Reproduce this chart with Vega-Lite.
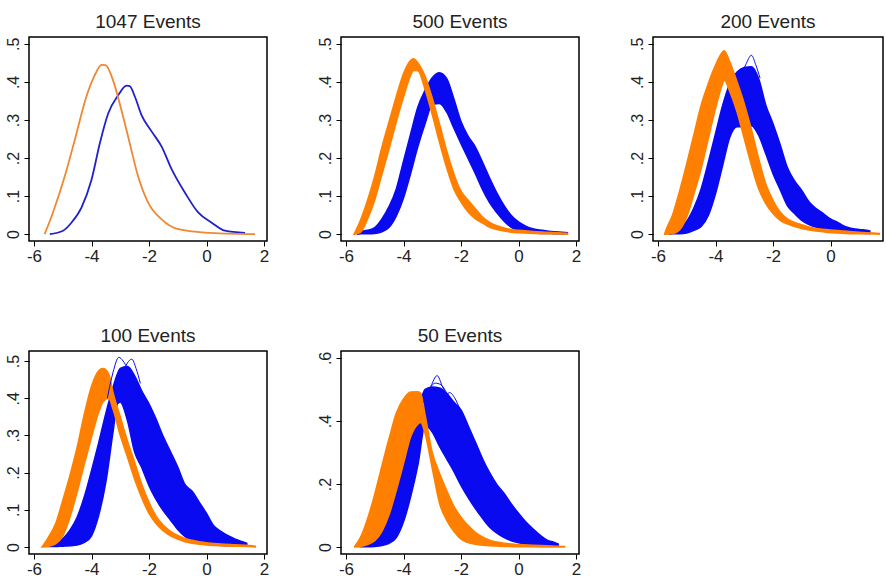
{
  "$schema": "https://vega.github.io/schema/vega-lite/v6.json",
  "background": "white",
  "autosize": {"type": "pad"},
  "padding": {"left": 4, "top": 12, "right": 0, "bottom": 0},
  "bounds": "flush",
  "columns": 3,
  "spacing": {"row": 110, "column": 74},
  "config": {
    "view": {"stroke": "#000000", "strokeWidth": 1.5},
    "axis": {
      "domain": false, "grid": false, "ticks": true, "tickColor": "#000000", "tickSize": 5, "tickWidth": 1,
      "labelFont": "Liberation Sans, Arial, sans-serif", "labelFontSize": 17, "labelColor": "#222222",
      "labelPadding": 2, "labelFlush": false, "labelOverlap": false
    },
    "axisX": {"labelExpr": "(datum.value < 0 ? '-' : '') + abs(datum.value)"},
    "axisY": {"labelAngle": -90, "labelAlign": "center", "labelBaseline": "bottom", "labelFontSize": 16, "labelPadding": 3},
    "title": {"font": "Liberation Sans, Arial, sans-serif", "fontSize": 19, "fontWeight": "normal", "color": "#222222", "offset": 5, "anchor": "middle"}
  },
  "datasets": {
    "curves": [
      {"p": "1047", "s": "o", "x": -5.63, "y": 0}, {"p": "1047", "s": "o", "x": -5.34, "y": 0.057}, {"p": "1047", "s": "o", "x": -4.93, "y": 0.152},
      {"p": "1047", "s": "o", "x": -4.58, "y": 0.248}, {"p": "1047", "s": "o", "x": -4.18, "y": 0.361}, {"p": "1047", "s": "o", "x": -3.89, "y": 0.417},
      {"p": "1047", "s": "o", "x": -3.65, "y": 0.445}, {"p": "1047", "s": "o", "x": -3.51, "y": 0.444}, {"p": "1047", "s": "o", "x": -3.25, "y": 0.404},
      {"p": "1047", "s": "o", "x": -2.96, "y": 0.326}, {"p": "1047", "s": "o", "x": -2.67, "y": 0.239}, {"p": "1047", "s": "o", "x": -2.38, "y": 0.152},
      {"p": "1047", "s": "o", "x": -2.03, "y": 0.083}, {"p": "1047", "s": "o", "x": -1.56, "y": 0.039}, {"p": "1047", "s": "o", "x": -0.98, "y": 0.013},
      {"p": "1047", "s": "o", "x": -0.05, "y": 0.004}, {"p": "1047", "s": "o", "x": 1.69, "y": 0},
      {"p": "1047", "s": "b", "x": -5.45, "y": 0}, {"p": "1047", "s": "b", "x": -4.99, "y": 0.009}, {"p": "1047", "s": "b", "x": -4.7, "y": 0.03},
      {"p": "1047", "s": "b", "x": -4.35, "y": 0.07}, {"p": "1047", "s": "b", "x": -4.0, "y": 0.143}, {"p": "1047", "s": "b", "x": -3.71, "y": 0.239},
      {"p": "1047", "s": "b", "x": -3.42, "y": 0.317}, {"p": "1047", "s": "b", "x": -3.07, "y": 0.365}, {"p": "1047", "s": "b", "x": -2.78, "y": 0.39},
      {"p": "1047", "s": "b", "x": -2.67, "y": 0.389}, {"p": "1047", "s": "b", "x": -2.49, "y": 0.361}, {"p": "1047", "s": "b", "x": -2.26, "y": 0.313},
      {"p": "1047", "s": "b", "x": -1.91, "y": 0.27}, {"p": "1047", "s": "b", "x": -1.56, "y": 0.23}, {"p": "1047", "s": "b", "x": -1.21, "y": 0.17},
      {"p": "1047", "s": "b", "x": -0.75, "y": 0.109}, {"p": "1047", "s": "b", "x": -0.29, "y": 0.057}, {"p": "1047", "s": "b", "x": 0.18, "y": 0.03},
      {"p": "1047", "s": "b", "x": 0.64, "y": 0.009}, {"p": "1047", "s": "b", "x": 1.34, "y": 0.003},
      {"p": "200", "s": "b1", "x": -3.15, "y": 0.41}, {"p": "200", "s": "b1", "x": -2.95, "y": 0.445}, {"p": "200", "s": "b1", "x": -2.75, "y": 0.47},
      {"p": "200", "s": "b1", "x": -2.6, "y": 0.445}, {"p": "200", "s": "b1", "x": -2.45, "y": 0.41},
      {"p": "100", "s": "b1", "x": -3.45, "y": 0.4}, {"p": "100", "s": "b1", "x": -3.25, "y": 0.47}, {"p": "100", "s": "b1", "x": -3.05, "y": 0.51},
      {"p": "100", "s": "b1", "x": -2.9, "y": 0.5}, {"p": "100", "s": "b1", "x": -2.75, "y": 0.48},
      {"p": "100", "s": "b2", "x": -2.95, "y": 0.46}, {"p": "100", "s": "b2", "x": -2.75, "y": 0.495}, {"p": "100", "s": "b2", "x": -2.6, "y": 0.505},
      {"p": "100", "s": "b2", "x": -2.45, "y": 0.48}, {"p": "100", "s": "b2", "x": -2.3, "y": 0.44},
      {"p": "50", "s": "b1", "x": -3.25, "y": 0.47}, {"p": "50", "s": "b1", "x": -3.05, "y": 0.51}, {"p": "50", "s": "b1", "x": -2.83, "y": 0.544},
      {"p": "50", "s": "b1", "x": -2.65, "y": 0.51}, {"p": "50", "s": "b1", "x": -2.45, "y": 0.47},
      {"p": "50", "s": "b2", "x": -3.3, "y": 0.46}, {"p": "50", "s": "b2", "x": -3.1, "y": 0.5}, {"p": "50", "s": "b2", "x": -2.9, "y": 0.52},
      {"p": "50", "s": "b2", "x": -2.7, "y": 0.515}, {"p": "50", "s": "b2", "x": -2.5, "y": 0.49}, {"p": "50", "s": "b2", "x": -2.3, "y": 0.46},
      {"p": "50", "s": "b3", "x": -2.6, "y": 0.46}, {"p": "50", "s": "b3", "x": -2.4, "y": 0.49}, {"p": "50", "s": "b3", "x": -2.2, "y": 0.47},
      {"p": "50", "s": "b3", "x": -2.05, "y": 0.44}
    ],
    "bands": [
      {"p": "500", "s": "o", "x": -5.72, "lo": 0, "hi": 0}, {"p": "500", "s": "o", "x": -5.5, "lo": 0.005, "hi": 0.036},
      {"p": "500", "s": "o", "x": -5.25, "lo": 0.04, "hi": 0.089}, {"p": "500", "s": "o", "x": -5.0, "lo": 0.09, "hi": 0.153},
      {"p": "500", "s": "o", "x": -4.75, "lo": 0.157, "hi": 0.229}, {"p": "500", "s": "o", "x": -4.5, "lo": 0.225, "hi": 0.296},
      {"p": "500", "s": "o", "x": -4.25, "lo": 0.295, "hi": 0.362}, {"p": "500", "s": "o", "x": -4.0, "lo": 0.36, "hi": 0.422},
      {"p": "500", "s": "o", "x": -3.75, "lo": 0.418, "hi": 0.457}, {"p": "500", "s": "o", "x": -3.65, "lo": 0.43, "hi": 0.461},
      {"p": "500", "s": "o", "x": -3.5, "lo": 0.429, "hi": 0.45}, {"p": "500", "s": "o", "x": -3.25, "lo": 0.38, "hi": 0.415},
      {"p": "500", "s": "o", "x": -3.0, "lo": 0.314, "hi": 0.358}, {"p": "500", "s": "o", "x": -2.75, "lo": 0.242, "hi": 0.29},
      {"p": "500", "s": "o", "x": -2.5, "lo": 0.175, "hi": 0.22}, {"p": "500", "s": "o", "x": -2.25, "lo": 0.119, "hi": 0.159},
      {"p": "500", "s": "o", "x": -2.0, "lo": 0.084, "hi": 0.113}, {"p": "500", "s": "o", "x": -1.75, "lo": 0.058, "hi": 0.089},
      {"p": "500", "s": "o", "x": -1.5, "lo": 0.04, "hi": 0.067}, {"p": "500", "s": "o", "x": -1.25, "lo": 0.029, "hi": 0.045},
      {"p": "500", "s": "o", "x": -1.0, "lo": 0.018, "hi": 0.031}, {"p": "500", "s": "o", "x": -0.75, "lo": 0.012, "hi": 0.022},
      {"p": "500", "s": "o", "x": -0.5, "lo": 0.008, "hi": 0.016}, {"p": "500", "s": "o", "x": -0.25, "lo": 0.005, "hi": 0.012},
      {"p": "500", "s": "o", "x": 0, "lo": 0.0035, "hi": 0.01}, {"p": "500", "s": "o", "x": 0.5, "lo": 0.002, "hi": 0.007},
      {"p": "500", "s": "o", "x": 1.0, "lo": 0.001, "hi": 0.005}, {"p": "500", "s": "o", "x": 1.5, "lo": 0.0005, "hi": 0.003},
      {"p": "500", "s": "o", "x": 1.7, "lo": 0, "hi": 0.002},

      {"p": "500", "s": "b", "x": -5.6, "lo": 0, "hi": 0.005}, {"p": "500", "s": "b", "x": -5.5, "lo": 0.001, "hi": 0.007},
      {"p": "500", "s": "b", "x": -5.25, "lo": 0.001, "hi": 0.01}, {"p": "500", "s": "b", "x": -5.0, "lo": 0.002, "hi": 0.017},
      {"p": "500", "s": "b", "x": -4.75, "lo": 0.006, "hi": 0.04}, {"p": "500", "s": "b", "x": -4.5, "lo": 0.018, "hi": 0.073},
      {"p": "500", "s": "b", "x": -4.25, "lo": 0.048, "hi": 0.119}, {"p": "500", "s": "b", "x": -4.0, "lo": 0.095, "hi": 0.192},
      {"p": "500", "s": "b", "x": -3.75, "lo": 0.16, "hi": 0.264}, {"p": "500", "s": "b", "x": -3.5, "lo": 0.23, "hi": 0.334},
      {"p": "500", "s": "b", "x": -3.25, "lo": 0.29, "hi": 0.378}, {"p": "500", "s": "b", "x": -3.0, "lo": 0.34, "hi": 0.411},
      {"p": "500", "s": "b", "x": -2.75, "lo": 0.343, "hi": 0.424}, {"p": "500", "s": "b", "x": -2.5, "lo": 0.321, "hi": 0.409},
      {"p": "500", "s": "b", "x": -2.25, "lo": 0.279, "hi": 0.356}, {"p": "500", "s": "b", "x": -2.0, "lo": 0.238, "hi": 0.296},
      {"p": "500", "s": "b", "x": -1.75, "lo": 0.198, "hi": 0.257}, {"p": "500", "s": "b", "x": -1.5, "lo": 0.159, "hi": 0.229},
      {"p": "500", "s": "b", "x": -1.25, "lo": 0.117, "hi": 0.189}, {"p": "500", "s": "b", "x": -1.0, "lo": 0.082, "hi": 0.147},
      {"p": "500", "s": "b", "x": -0.75, "lo": 0.056, "hi": 0.108}, {"p": "500", "s": "b", "x": -0.5, "lo": 0.034, "hi": 0.075},
      {"p": "500", "s": "b", "x": -0.25, "lo": 0.018, "hi": 0.049}, {"p": "500", "s": "b", "x": 0, "lo": 0.01, "hi": 0.032},
      {"p": "500", "s": "b", "x": 0.25, "lo": 0.005, "hi": 0.021}, {"p": "500", "s": "b", "x": 0.5, "lo": 0.003, "hi": 0.014},
      {"p": "500", "s": "b", "x": 0.75, "lo": 0.002, "hi": 0.011}, {"p": "500", "s": "b", "x": 1.0, "lo": 0.002, "hi": 0.008},
      {"p": "500", "s": "b", "x": 1.25, "lo": 0.001, "hi": 0.006}, {"p": "500", "s": "b", "x": 1.5, "lo": 0.001, "hi": 0.005},
      {"p": "500", "s": "b", "x": 1.7, "lo": 0.001, "hi": 0.004},

      {"p": "200", "s": "o", "x": -5.77, "lo": 0, "hi": 0}, {"p": "200", "s": "o", "x": -5.75, "lo": 0, "hi": 0.005},
      {"p": "200", "s": "o", "x": -5.5, "lo": 0.001, "hi": 0.049}, {"p": "200", "s": "o", "x": -5.25, "lo": 0.011, "hi": 0.113},
      {"p": "200", "s": "o", "x": -5.0, "lo": 0.045, "hi": 0.185}, {"p": "200", "s": "o", "x": -4.75, "lo": 0.106, "hi": 0.262},
      {"p": "200", "s": "o", "x": -4.5, "lo": 0.172, "hi": 0.339}, {"p": "200", "s": "o", "x": -4.25, "lo": 0.251, "hi": 0.396},
      {"p": "200", "s": "o", "x": -4.0, "lo": 0.33, "hi": 0.444}, {"p": "200", "s": "o", "x": -3.75, "lo": 0.396, "hi": 0.479},
      {"p": "200", "s": "o", "x": -3.7, "lo": 0.405, "hi": 0.482}, {"p": "200", "s": "o", "x": -3.5, "lo": 0.374, "hi": 0.452},
      {"p": "200", "s": "o", "x": -3.25, "lo": 0.321, "hi": 0.4}, {"p": "200", "s": "o", "x": -3.0, "lo": 0.251, "hi": 0.343},
      {"p": "200", "s": "o", "x": -2.75, "lo": 0.181, "hi": 0.275}, {"p": "200", "s": "o", "x": -2.5, "lo": 0.119, "hi": 0.199},
      {"p": "200", "s": "o", "x": -2.25, "lo": 0.08, "hi": 0.132}, {"p": "200", "s": "o", "x": -2.0, "lo": 0.054, "hi": 0.089},
      {"p": "200", "s": "o", "x": -1.75, "lo": 0.036, "hi": 0.058}, {"p": "200", "s": "o", "x": -1.5, "lo": 0.027, "hi": 0.04},
      {"p": "200", "s": "o", "x": -1.25, "lo": 0.02, "hi": 0.031}, {"p": "200", "s": "o", "x": -1.0, "lo": 0.015, "hi": 0.025},
      {"p": "200", "s": "o", "x": -0.75, "lo": 0.011, "hi": 0.019}, {"p": "200", "s": "o", "x": -0.5, "lo": 0.008, "hi": 0.015},
      {"p": "200", "s": "o", "x": -0.25, "lo": 0.006, "hi": 0.013}, {"p": "200", "s": "o", "x": 0, "lo": 0.004, "hi": 0.011},
      {"p": "200", "s": "o", "x": 0.5, "lo": 0.002, "hi": 0.008}, {"p": "200", "s": "o", "x": 1.0, "lo": 0.001, "hi": 0.005},
      {"p": "200", "s": "o", "x": 1.5, "lo": 0.0005, "hi": 0.003}, {"p": "200", "s": "o", "x": 1.7, "lo": 0, "hi": 0.002},

      {"p": "200", "s": "b", "x": -5.6, "lo": 0, "hi": 0.005}, {"p": "200", "s": "b", "x": -5.5, "lo": 0.001, "hi": 0.008},
      {"p": "200", "s": "b", "x": -5.25, "lo": 0.001, "hi": 0.017}, {"p": "200", "s": "b", "x": -5.0, "lo": 0.003, "hi": 0.034},
      {"p": "200", "s": "b", "x": -4.75, "lo": 0.01, "hi": 0.069}, {"p": "200", "s": "b", "x": -4.5, "lo": 0.02, "hi": 0.119},
      {"p": "200", "s": "b", "x": -4.25, "lo": 0.049, "hi": 0.189}, {"p": "200", "s": "b", "x": -4.0, "lo": 0.106, "hi": 0.264},
      {"p": "200", "s": "b", "x": -3.75, "lo": 0.181, "hi": 0.339}, {"p": "200", "s": "b", "x": -3.5, "lo": 0.255, "hi": 0.396},
      {"p": "200", "s": "b", "x": -3.25, "lo": 0.282, "hi": 0.426}, {"p": "200", "s": "b", "x": -3.0, "lo": 0.282, "hi": 0.438},
      {"p": "200", "s": "b", "x": -2.75, "lo": 0.285, "hi": 0.44}, {"p": "200", "s": "b", "x": -2.5, "lo": 0.26, "hi": 0.409},
      {"p": "200", "s": "b", "x": -2.25, "lo": 0.211, "hi": 0.339}, {"p": "200", "s": "b", "x": -2.0, "lo": 0.159, "hi": 0.29},
      {"p": "200", "s": "b", "x": -1.75, "lo": 0.117, "hi": 0.235}, {"p": "200", "s": "b", "x": -1.5, "lo": 0.075, "hi": 0.175},
      {"p": "200", "s": "b", "x": -1.25, "lo": 0.054, "hi": 0.14}, {"p": "200", "s": "b", "x": -1.0, "lo": 0.036, "hi": 0.115},
      {"p": "200", "s": "b", "x": -0.75, "lo": 0.025, "hi": 0.085}, {"p": "200", "s": "b", "x": -0.5, "lo": 0.018, "hi": 0.067},
      {"p": "200", "s": "b", "x": -0.25, "lo": 0.013, "hi": 0.054}, {"p": "200", "s": "b", "x": 0, "lo": 0.01, "hi": 0.04},
      {"p": "200", "s": "b", "x": 0.25, "lo": 0.007, "hi": 0.031}, {"p": "200", "s": "b", "x": 0.5, "lo": 0.005, "hi": 0.02},
      {"p": "200", "s": "b", "x": 0.75, "lo": 0.0035, "hi": 0.015}, {"p": "200", "s": "b", "x": 1.0, "lo": 0.003, "hi": 0.012},
      {"p": "200", "s": "b", "x": 1.25, "lo": 0.002, "hi": 0.01}, {"p": "200", "s": "b", "x": 1.37, "lo": 0.002, "hi": 0.008},

      {"p": "100", "s": "o", "x": -5.72, "lo": 0, "hi": 0}, {"p": "100", "s": "o", "x": -5.5, "lo": 0.002, "hi": 0.026},
      {"p": "100", "s": "o", "x": -5.25, "lo": 0.008, "hi": 0.062}, {"p": "100", "s": "o", "x": -5.0, "lo": 0.029, "hi": 0.125},
      {"p": "100", "s": "o", "x": -4.75, "lo": 0.08, "hi": 0.192}, {"p": "100", "s": "o", "x": -4.5, "lo": 0.147, "hi": 0.268},
      {"p": "100", "s": "o", "x": -4.25, "lo": 0.223, "hi": 0.357}, {"p": "100", "s": "o", "x": -4.0, "lo": 0.295, "hi": 0.432},
      {"p": "100", "s": "o", "x": -3.75, "lo": 0.362, "hi": 0.474}, {"p": "100", "s": "o", "x": -3.6, "lo": 0.39, "hi": 0.48},
      {"p": "100", "s": "o", "x": -3.4, "lo": 0.4, "hi": 0.465}, {"p": "100", "s": "o", "x": -3.25, "lo": 0.37, "hi": 0.415},
      {"p": "100", "s": "o", "x": -3.0, "lo": 0.3, "hi": 0.35}, {"p": "100", "s": "o", "x": -2.75, "lo": 0.242, "hi": 0.285},
      {"p": "100", "s": "o", "x": -2.5, "lo": 0.182, "hi": 0.228}, {"p": "100", "s": "o", "x": -2.25, "lo": 0.132, "hi": 0.168},
      {"p": "100", "s": "o", "x": -2.0, "lo": 0.09, "hi": 0.12}, {"p": "100", "s": "o", "x": -1.75, "lo": 0.062, "hi": 0.082},
      {"p": "100", "s": "o", "x": -1.5, "lo": 0.043, "hi": 0.058}, {"p": "100", "s": "o", "x": -1.25, "lo": 0.03, "hi": 0.042},
      {"p": "100", "s": "o", "x": -1.0, "lo": 0.021, "hi": 0.031}, {"p": "100", "s": "o", "x": -0.75, "lo": 0.014, "hi": 0.023},
      {"p": "100", "s": "o", "x": -0.5, "lo": 0.01, "hi": 0.018}, {"p": "100", "s": "o", "x": -0.25, "lo": 0.007, "hi": 0.014},
      {"p": "100", "s": "o", "x": 0, "lo": 0.005, "hi": 0.011}, {"p": "100", "s": "o", "x": 0.5, "lo": 0.003, "hi": 0.008},
      {"p": "100", "s": "o", "x": 1.0, "lo": 0.002, "hi": 0.006}, {"p": "100", "s": "o", "x": 1.5, "lo": 0.001, "hi": 0.004},
      {"p": "100", "s": "o", "x": 1.7, "lo": 0, "hi": 0.002},

      {"p": "100", "s": "b", "x": -5.5, "lo": 0.001, "hi": 0.004}, {"p": "100", "s": "b", "x": -5.25, "lo": 0.001, "hi": 0.01},
      {"p": "100", "s": "b", "x": -5.0, "lo": 0.002, "hi": 0.022}, {"p": "100", "s": "b", "x": -4.75, "lo": 0.003, "hi": 0.045},
      {"p": "100", "s": "b", "x": -4.5, "lo": 0.005, "hi": 0.08}, {"p": "100", "s": "b", "x": -4.25, "lo": 0.012, "hi": 0.135},
      {"p": "100", "s": "b", "x": -4.0, "lo": 0.03, "hi": 0.205}, {"p": "100", "s": "b", "x": -3.75, "lo": 0.085, "hi": 0.28},
      {"p": "100", "s": "b", "x": -3.5, "lo": 0.175, "hi": 0.36}, {"p": "100", "s": "b", "x": -3.25, "lo": 0.31, "hi": 0.43},
      {"p": "100", "s": "b", "x": -3.1, "lo": 0.385, "hi": 0.465},
      {"p": "100", "s": "b", "x": -3.0, "lo": 0.39, "hi": 0.48}, {"p": "100", "s": "b", "x": -2.75, "lo": 0.34, "hi": 0.485},
      {"p": "100", "s": "b", "x": -2.5, "lo": 0.255, "hi": 0.46}, {"p": "100", "s": "b", "x": -2.25, "lo": 0.213, "hi": 0.419},
      {"p": "100", "s": "b", "x": -2.0, "lo": 0.165, "hi": 0.385}, {"p": "100", "s": "b", "x": -1.75, "lo": 0.127, "hi": 0.343},
      {"p": "100", "s": "b", "x": -1.5, "lo": 0.097, "hi": 0.296}, {"p": "100", "s": "b", "x": -1.25, "lo": 0.072, "hi": 0.256},
      {"p": "100", "s": "b", "x": -1.0, "lo": 0.047, "hi": 0.215}, {"p": "100", "s": "b", "x": -0.75, "lo": 0.028, "hi": 0.168},
      {"p": "100", "s": "b", "x": -0.5, "lo": 0.016, "hi": 0.15}, {"p": "100", "s": "b", "x": -0.25, "lo": 0.01, "hi": 0.12},
      {"p": "100", "s": "b", "x": 0, "lo": 0.007, "hi": 0.09}, {"p": "100", "s": "b", "x": 0.25, "lo": 0.005, "hi": 0.057},
      {"p": "100", "s": "b", "x": 0.5, "lo": 0.004, "hi": 0.042}, {"p": "100", "s": "b", "x": 0.75, "lo": 0.003, "hi": 0.03},
      {"p": "100", "s": "b", "x": 1.0, "lo": 0.003, "hi": 0.021}, {"p": "100", "s": "b", "x": 1.25, "lo": 0.002, "hi": 0.014},
      {"p": "100", "s": "b", "x": 1.4, "lo": 0.002, "hi": 0.01},

      {"p": "50", "s": "o", "x": -5.7, "lo": 0, "hi": 0.002}, {"p": "50", "s": "o", "x": -5.5, "lo": 0.002, "hi": 0.03},
      {"p": "50", "s": "o", "x": -5.25, "lo": 0.008, "hi": 0.09}, {"p": "50", "s": "o", "x": -5.0, "lo": 0.02, "hi": 0.168},
      {"p": "50", "s": "o", "x": -4.75, "lo": 0.05, "hi": 0.258}, {"p": "50", "s": "o", "x": -4.5, "lo": 0.103, "hi": 0.345},
      {"p": "50", "s": "o", "x": -4.25, "lo": 0.18, "hi": 0.425}, {"p": "50", "s": "o", "x": -4.0, "lo": 0.265, "hi": 0.47},
      {"p": "50", "s": "o", "x": -3.75, "lo": 0.35, "hi": 0.492}, {"p": "50", "s": "o", "x": -3.5, "lo": 0.39, "hi": 0.493},
      {"p": "50", "s": "o", "x": -3.4, "lo": 0.395, "hi": 0.487}, {"p": "50", "s": "o", "x": -3.25, "lo": 0.36, "hi": 0.42},
      {"p": "50", "s": "o", "x": -3.0, "lo": 0.25, "hi": 0.3}, {"p": "50", "s": "o", "x": -2.75, "lo": 0.14, "hi": 0.235},
      {"p": "50", "s": "o", "x": -2.5, "lo": 0.085, "hi": 0.18}, {"p": "50", "s": "o", "x": -2.25, "lo": 0.05, "hi": 0.13},
      {"p": "50", "s": "o", "x": -2.0, "lo": 0.025, "hi": 0.095}, {"p": "50", "s": "o", "x": -1.75, "lo": 0.014, "hi": 0.068},
      {"p": "50", "s": "o", "x": -1.5, "lo": 0.009, "hi": 0.047}, {"p": "50", "s": "o", "x": -1.25, "lo": 0.006, "hi": 0.032},
      {"p": "50", "s": "o", "x": -1.0, "lo": 0.004, "hi": 0.022}, {"p": "50", "s": "o", "x": -0.75, "lo": 0.003, "hi": 0.016},
      {"p": "50", "s": "o", "x": -0.5, "lo": 0.002, "hi": 0.012}, {"p": "50", "s": "o", "x": 0, "lo": 0.001, "hi": 0.008},
      {"p": "50", "s": "o", "x": 0.5, "lo": 0.001, "hi": 0.006}, {"p": "50", "s": "o", "x": 1.0, "lo": 0, "hi": 0.004},
      {"p": "50", "s": "o", "x": 1.6, "lo": 0, "hi": 0.002},

      {"p": "50", "s": "b", "x": -5.5, "lo": 0.001, "hi": 0.004}, {"p": "50", "s": "b", "x": -5.25, "lo": 0.001, "hi": 0.013},
      {"p": "50", "s": "b", "x": -5.0, "lo": 0.002, "hi": 0.035}, {"p": "50", "s": "b", "x": -4.75, "lo": 0.005, "hi": 0.068},
      {"p": "50", "s": "b", "x": -4.5, "lo": 0.012, "hi": 0.122}, {"p": "50", "s": "b", "x": -4.25, "lo": 0.03, "hi": 0.195},
      {"p": "50", "s": "b", "x": -4.0, "lo": 0.08, "hi": 0.275}, {"p": "50", "s": "b", "x": -3.75, "lo": 0.16, "hi": 0.355},
      {"p": "50", "s": "b", "x": -3.5, "lo": 0.26, "hi": 0.43}, {"p": "50", "s": "b", "x": -3.25, "lo": 0.385, "hi": 0.5},
      {"p": "50", "s": "b", "x": -3.0, "lo": 0.365, "hi": 0.508}, {"p": "50", "s": "b", "x": -2.75, "lo": 0.32, "hi": 0.505},
      {"p": "50", "s": "b", "x": -2.5, "lo": 0.28, "hi": 0.488}, {"p": "50", "s": "b", "x": -2.25, "lo": 0.24, "hi": 0.46},
      {"p": "50", "s": "b", "x": -2.0, "lo": 0.196, "hi": 0.435}, {"p": "50", "s": "b", "x": -1.75, "lo": 0.157, "hi": 0.385},
      {"p": "50", "s": "b", "x": -1.5, "lo": 0.122, "hi": 0.333}, {"p": "50", "s": "b", "x": -1.25, "lo": 0.091, "hi": 0.28},
      {"p": "50", "s": "b", "x": -1.0, "lo": 0.063, "hi": 0.235}, {"p": "50", "s": "b", "x": -0.75, "lo": 0.044, "hi": 0.198},
      {"p": "50", "s": "b", "x": -0.5, "lo": 0.03, "hi": 0.17}, {"p": "50", "s": "b", "x": -0.25, "lo": 0.02, "hi": 0.137},
      {"p": "50", "s": "b", "x": 0, "lo": 0.014, "hi": 0.107}, {"p": "50", "s": "b", "x": 0.25, "lo": 0.009, "hi": 0.08},
      {"p": "50", "s": "b", "x": 0.5, "lo": 0.007, "hi": 0.058}, {"p": "50", "s": "b", "x": 0.75, "lo": 0.005, "hi": 0.038},
      {"p": "50", "s": "b", "x": 1.0, "lo": 0.004, "hi": 0.022}, {"p": "50", "s": "b", "x": 1.25, "lo": 0.003, "hi": 0.015},
      {"p": "50", "s": "b", "x": 1.38, "lo": 0.003, "hi": 0.01}
    ]
  },
  "concat": [
    {
      "width": 238, "height": 204,
      "title": "1047 Events",
      "data": {"name": "curves"},
      "transform": [{"filter": "datum.p == '1047'"}],
      "encoding": {
        "x": {"field": "x", "type": "quantitative", "title": null, "scale": {"domain": [-6.174, 2.104], "nice": false, "zero": false}, "axis": {"values": [-6, -4, -2, 0, 2]}}
      },
      "layer": [
        {
          "transform": [{"filter": "datum.s == 'b'"}],
          "mark": {"type": "line", "color": "#2020CC", "strokeWidth": 1.8, "interpolate": "monotone"},
          "encoding": {"y": {"field": "y", "type": "quantitative", "title": null, "scale": {"domain": [-0.018, 0.518], "nice": false, "zero": false}, "axis": {"values": [0, 0.1, 0.2, 0.3, 0.4, 0.5], "labelExpr": "datum.value == 0 ? '0' : substring(format(datum.value, '.1f'), 1)"}}}
        },
        {
          "transform": [{"filter": "datum.s == 'o'"}],
          "mark": {"type": "line", "color": "#EE8833", "strokeWidth": 1.8, "interpolate": "monotone"},
          "encoding": {"y": {"field": "y", "type": "quantitative", "title": null}}
        }
      ]
    },
    {
      "width": 238, "height": 204,
      "title": "500 Events",
      "encoding": {
        "x": {"field": "x", "type": "quantitative", "title": null, "scale": {"domain": [-6.174, 2.104], "nice": false, "zero": false}, "axis": {"values": [-6, -4, -2, 0, 2]}}
      },
      "layer": [
        {
          "data": {"name": "bands"},
          "transform": [{"filter": "datum.p == '500' && datum.s == 'b'"}],
          "mark": {"type": "area", "color": "#0A0AF0", "stroke": "#0A0AF0", "strokeWidth": 1.5, "interpolate": "monotone"},
          "encoding": {
            "y": {"field": "lo", "type": "quantitative", "title": null, "scale": {"domain": [-0.018, 0.518], "nice": false, "zero": false}, "axis": {"values": [0, 0.1, 0.2, 0.3, 0.4, 0.5], "labelExpr": "datum.value == 0 ? '0' : substring(format(datum.value, '.1f'), 1)"}},
            "y2": {"field": "hi"}
          }
        },
        {
          "data": {"name": "bands"},
          "transform": [{"filter": "datum.p == '500' && datum.s == 'o'"}],
          "mark": {"type": "area", "color": "#FF8000", "stroke": "#FF8000", "strokeWidth": 1.5, "interpolate": "monotone"},
          "encoding": {"y": {"field": "lo", "type": "quantitative", "title": null}, "y2": {"field": "hi"}}
        }
      ]
    },
    {
      "width": 230, "height": 204,
      "title": "200 Events",
      "encoding": {
        "x": {"field": "x", "type": "quantitative", "title": null, "scale": {"domain": [-6.174, 1.826], "nice": false, "zero": false}, "axis": {"values": [-6, -4, -2, 0]}}
      },
      "layer": [
        {
          "data": {"name": "bands"},
          "transform": [{"filter": "datum.p == '200' && datum.s == 'b'"}],
          "mark": {"type": "area", "color": "#0A0AF0", "stroke": "#0A0AF0", "strokeWidth": 1.5, "interpolate": "monotone"},
          "encoding": {
            "y": {"field": "lo", "type": "quantitative", "title": null, "scale": {"domain": [-0.018, 0.518], "nice": false, "zero": false}, "axis": {"values": [0, 0.1, 0.2, 0.3, 0.4, 0.5], "labelExpr": "datum.value == 0 ? '0' : substring(format(datum.value, '.1f'), 1)"}},
            "y2": {"field": "hi"}
          }
        },
        {
          "data": {"name": "bands"},
          "transform": [{"filter": "datum.p == '200' && datum.s == 'o'"}],
          "mark": {"type": "area", "color": "#FF8000", "stroke": "#FF8000", "strokeWidth": 1.5, "interpolate": "monotone"},
          "encoding": {"y": {"field": "lo", "type": "quantitative", "title": null}, "y2": {"field": "hi"}}
        },
        {
          "data": {"name": "curves"},
          "transform": [{"filter": "datum.p == '200'"}],
          "mark": {"type": "line", "color": "#0A0AF0", "strokeWidth": 1, "interpolate": "monotone"},
          "encoding": {"y": {"field": "y", "type": "quantitative", "title": null}, "detail": {"field": "s"}}
        }
      ]
    },
    {
      "width": 238, "height": 203,
      "title": "100 Events",
      "encoding": {
        "x": {"field": "x", "type": "quantitative", "title": null, "scale": {"domain": [-6.174, 2.104], "nice": false, "zero": false}, "axis": {"values": [-6, -4, -2, 0, 2]}}
      },
      "layer": [
        {
          "data": {"name": "bands"},
          "transform": [{"filter": "datum.p == '100' && datum.s == 'b'"}],
          "mark": {"type": "area", "color": "#0A0AF0", "stroke": "#0A0AF0", "strokeWidth": 1.5, "interpolate": "monotone"},
          "encoding": {
            "y": {"field": "lo", "type": "quantitative", "title": null, "scale": {"domain": [-0.019, 0.527], "nice": false, "zero": false}, "axis": {"values": [0, 0.1, 0.2, 0.3, 0.4, 0.5], "labelExpr": "datum.value == 0 ? '0' : substring(format(datum.value, '.1f'), 1)"}},
            "y2": {"field": "hi"}
          }
        },
        {
          "data": {"name": "bands"},
          "transform": [{"filter": "datum.p == '100' && datum.s == 'o'"}],
          "mark": {"type": "area", "color": "#FF8000", "stroke": "#FF8000", "strokeWidth": 1.5, "interpolate": "monotone"},
          "encoding": {"y": {"field": "lo", "type": "quantitative", "title": null}, "y2": {"field": "hi"}}
        },
        {
          "data": {"name": "curves"},
          "transform": [{"filter": "datum.p == '100'"}],
          "mark": {"type": "line", "color": "#0A0AF0", "strokeWidth": 1, "interpolate": "monotone"},
          "encoding": {"y": {"field": "y", "type": "quantitative", "title": null}, "detail": {"field": "s"}}
        }
      ]
    },
    {
      "width": 238, "height": 203,
      "title": "50 Events",
      "encoding": {
        "x": {"field": "x", "type": "quantitative", "title": null, "scale": {"domain": [-6.174, 2.104], "nice": false, "zero": false}, "axis": {"values": [-6, -4, -2, 0, 2]}}
      },
      "layer": [
        {
          "data": {"name": "bands"},
          "transform": [{"filter": "datum.p == '50' && datum.s == 'b'"}],
          "mark": {"type": "area", "color": "#0A0AF0", "stroke": "#0A0AF0", "strokeWidth": 1.5, "interpolate": "monotone"},
          "encoding": {
            "y": {"field": "lo", "type": "quantitative", "title": null, "scale": {"domain": [-0.022, 0.622], "nice": false, "zero": false}, "axis": {"values": [0, 0.2, 0.4, 0.6], "labelExpr": "datum.value == 0 ? '0' : substring(format(datum.value, '.1f'), 1)"}},
            "y2": {"field": "hi"}
          }
        },
        {
          "data": {"name": "bands"},
          "transform": [{"filter": "datum.p == '50' && datum.s == 'o'"}],
          "mark": {"type": "area", "color": "#FF8000", "stroke": "#FF8000", "strokeWidth": 1.5, "interpolate": "monotone"},
          "encoding": {"y": {"field": "lo", "type": "quantitative", "title": null}, "y2": {"field": "hi"}}
        },
        {
          "data": {"name": "curves"},
          "transform": [{"filter": "datum.p == '50'"}],
          "mark": {"type": "line", "color": "#0A0AF0", "strokeWidth": 1, "interpolate": "monotone"},
          "encoding": {"y": {"field": "y", "type": "quantitative", "title": null}, "detail": {"field": "s"}}
        }
      ]
    }
  ]
}
